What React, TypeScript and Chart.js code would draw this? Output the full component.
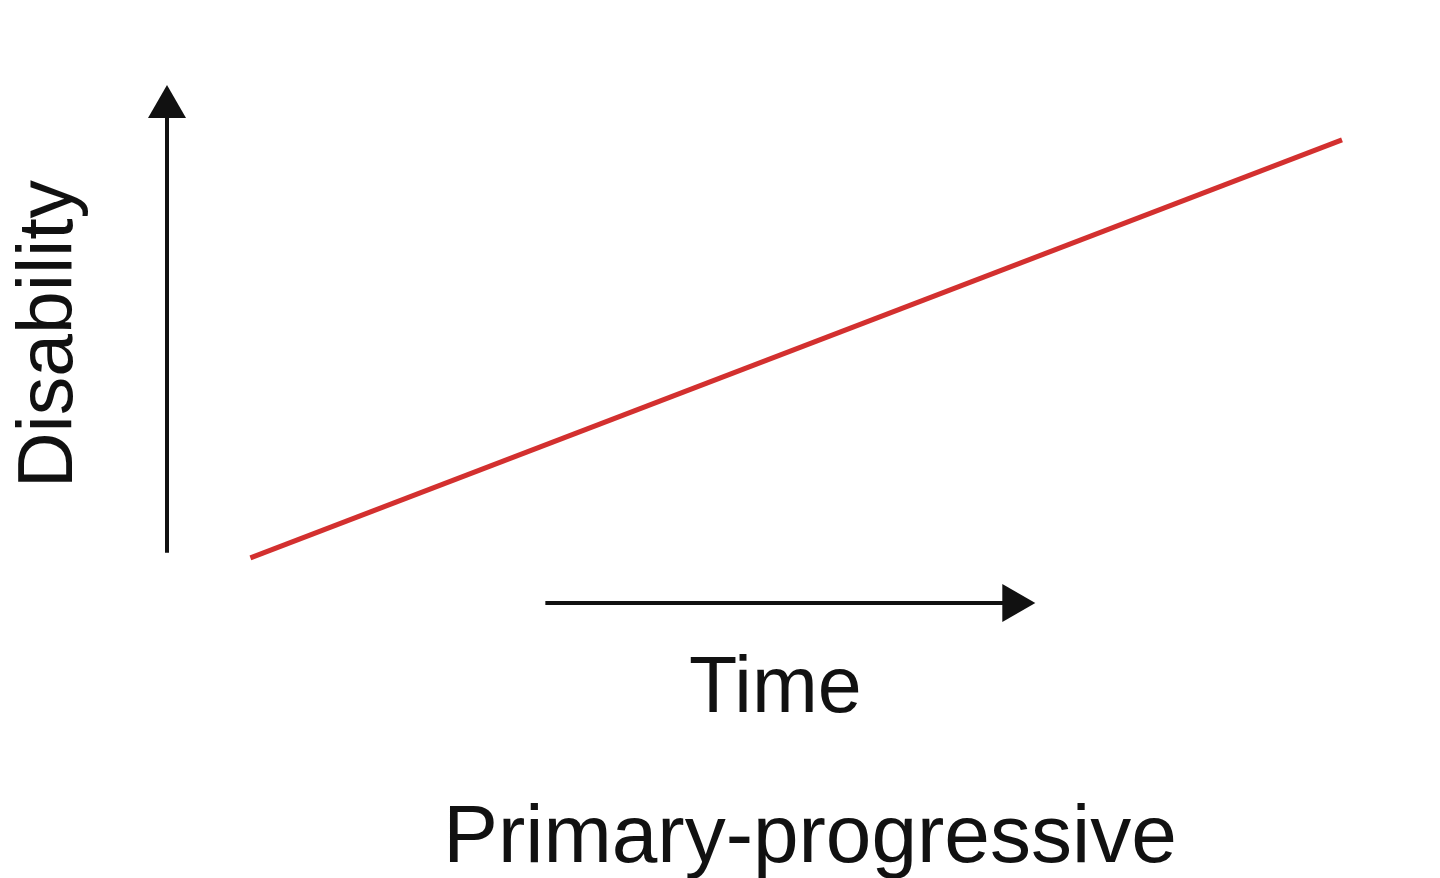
import React, { useEffect, useRef } from "react";
import { Chart, registerables } from "chart.js";

Chart.register(...registerables);

// Data (arbitrary units: Time 0–100, Disability 0–100)
const timePoints = [7.1, 100];
const disabilityValues = [8.7, 89.4];

const seriesLabel = "Primary-progressive";
const yAxisLabel = "Disability";
const xAxisLabel = "Time";
const chartTitle = "Primary-progressive";

// Axis arrows, in data units
const yArrowX = 0;
const yArrowRange = [9.7, 100];
const xArrowY = 0;
const xArrowRange = [32.2, 73.9];

const FONT = "'Liberation Sans', Arial, Helvetica, sans-serif";
const INK = "#111111";

function drawArrow(ctx: CanvasRenderingContext2D, x1: number, y1: number, x2: number, y2: number) {
  const ang = Math.atan2(y2 - y1, x2 - x1);
  const headLen = 33;
  const headHalf = 19;
  const bx = x2 - Math.cos(ang) * headLen;
  const by = y2 - Math.sin(ang) * headLen;
  ctx.save();
  ctx.strokeStyle = INK;
  ctx.fillStyle = INK;
  ctx.lineWidth = 4;
  ctx.beginPath();
  ctx.moveTo(x1, y1);
  ctx.lineTo(bx + Math.cos(ang) * 4, by + Math.sin(ang) * 4);
  ctx.stroke();
  ctx.beginPath();
  ctx.moveTo(x2, y2);
  ctx.lineTo(bx + Math.cos(ang + Math.PI / 2) * headHalf, by + Math.sin(ang + Math.PI / 2) * headHalf);
  ctx.lineTo(bx - Math.cos(ang + Math.PI / 2) * headHalf, by - Math.sin(ang + Math.PI / 2) * headHalf);
  ctx.closePath();
  ctx.fill();
  ctx.restore();
}

const decorPlugin = {
  id: "decor",
  afterDatasetsDraw(chart: any) {
    const { ctx, scales, chartArea } = chart;
    const xs = scales.x;
    const ys = scales.y;
    // vertical arrow
    drawArrow(
      ctx,
      xs.getPixelForValue(yArrowX),
      ys.getPixelForValue(yArrowRange[0]),
      xs.getPixelForValue(yArrowX),
      ys.getPixelForValue(yArrowRange[1])
    );
    // horizontal arrow
    drawArrow(
      ctx,
      xs.getPixelForValue(xArrowRange[0]),
      ys.getPixelForValue(xArrowY),
      xs.getPixelForValue(xArrowRange[1]),
      ys.getPixelForValue(xArrowY)
    );

    ctx.save();
    ctx.fillStyle = INK;
    ctx.textAlign = "center";
    ctx.textBaseline = "alphabetic";

    // y label (rotated)
    ctx.save();
    ctx.font = `77px ${FONT}`;
    ctx.translate(chartArea.left - 95, (chartArea.top + chartArea.bottom) / 2 - 10);
    ctx.rotate(-Math.PI / 2);
    ctx.fillText(yAxisLabel, 0, 0);
    ctx.restore();

    // x label
    ctx.font = `79px ${FONT}`;
    const xMid = (xs.getPixelForValue(xArrowRange[0]) + xs.getPixelForValue(xArrowRange[1])) / 2;
    ctx.fillText(xAxisLabel, xMid - 15, chartArea.bottom + 109);

    // title
    ctx.font = `82px ${FONT}`;
    ctx.fillText(chartTitle, 810, chartArea.bottom + 259);
    ctx.restore();
  },
};

export default function App() {
  const canvasRef = useRef<HTMLCanvasElement | null>(null);

  useEffect(() => {
    if (!canvasRef.current) return;
    const chart = new Chart(canvasRef.current, {
      type: "line",
      data: {
        datasets: [
          {
            label: seriesLabel,
            data: timePoints.map((t, i) => ({ x: t, y: disabilityValues[i] })),
            borderColor: "#d3302f",
            borderWidth: 5,
            pointRadius: 0,
            tension: 0,
            clip: false as any,
          },
        ],
      },
      options: {
        animation: false,
        responsive: false,
        maintainAspectRatio: false,
        layout: { padding: { left: 167, top: 85, right: 98, bottom: 275 } },
        plugins: {
          legend: { display: false },
          title: { display: false },
          tooltip: { enabled: false },
        },
        scales: {
          x: { type: "linear", min: 0, max: 100, display: false },
          y: { type: "linear", min: 0, max: 100, display: false },
        },
      },
      plugins: [decorPlugin],
    });
    return () => chart.destroy();
  }, []);

  return (
    <div style={{ position: "absolute", left: 0, top: 0, width: 1440, height: 878, background: "#ffffff" }}>
      <canvas ref={canvasRef} width={1440} height={878} style={{ display: "block", width: 1440, height: 878 }} />
    </div>
  );
}
